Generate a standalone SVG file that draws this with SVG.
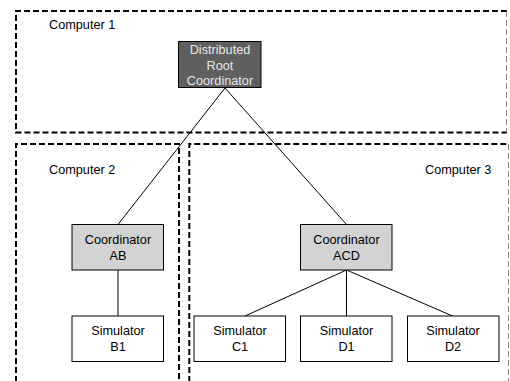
<svg xmlns="http://www.w3.org/2000/svg" width="510" height="381" viewBox="0 0 510 381">
<style>
.zone{fill:none;stroke:#000;stroke-width:2;stroke-dasharray:6,3}
.zedge{fill:none;stroke:#888;stroke-width:1;stroke-dasharray:6,3}
.lbl{font-family:"Liberation Sans",Arial,sans-serif;font-size:12.7px;fill:#000}
.box{stroke:#000;stroke-width:1}
.t{font-family:"Liberation Sans",Arial,sans-serif;font-size:12.7px;text-anchor:middle;fill:#000}
.conn{stroke:#000;stroke-width:1;fill:none}
</style>
<rect width="510" height="381" fill="#fff"/>
<g id="computer1">
<path class="zone" d="M507,11 H16 V132.5 H507"/>
<line class="zedge" x1="506.5" y1="11" x2="506.5" y2="132.5"/>
<text class="lbl" x="49" y="29">Computer 1</text>
</g>
<g id="computer2">
<path class="zone" d="M16,382 V144 H179 V382"/>
<text class="lbl" x="49" y="174">Computer 2</text>
</g>
<g id="computer3">
<path class="zone" d="M189.3,382 V144 H507"/>
<line class="zedge" x1="508.5" y1="144" x2="508.5" y2="381"/>
<text class="lbl" x="425" y="174">Computer 3</text>
</g>
<g id="connectors">
<line class="conn" x1="225" y1="88" x2="118" y2="224.5"/>
<line class="conn" x1="225" y1="88" x2="346.5" y2="224.5"/>
<line class="conn" x1="118" y1="270" x2="118" y2="316"/>
<line class="conn" x1="346.5" y1="270" x2="245" y2="316"/>
<line class="conn" x1="346.5" y1="270" x2="346.5" y2="316"/>
<line class="conn" x1="346.5" y1="270" x2="452.5" y2="316"/>
</g>
<g id="root">
<rect class="box" x="178.5" y="41.5" width="82.5" height="46" fill="#5f5f5f"/>
<text class="t" x="220" y="54" fill="#e6e6e6" style="fill:#e6e6e6">Distributed</text>
<text class="t" x="220" y="69.5" style="fill:#e6e6e6">Root</text>
<text class="t" x="220" y="84.5" style="fill:#e6e6e6">Coordinator</text>
</g>
<g id="coordAB">
<rect class="box" x="72" y="224.5" width="91.5" height="45.5" fill="#d3d3d3"/>
<text class="t" x="118" y="244">Coordinator</text>
<text class="t" x="118" y="259.5">AB</text>
</g>
<g id="coordACD">
<rect class="box" x="300.5" y="224.5" width="91.5" height="45.5" fill="#d3d3d3"/>
<text class="t" x="346.5" y="244">Coordinator</text>
<text class="t" x="346.5" y="259.5">ACD</text>
</g>
<g id="simB1">
<rect class="box" x="72" y="316" width="91.5" height="45.5" fill="#fff"/>
<text class="t" x="118" y="335">Simulator</text>
<text class="t" x="118" y="350.5">B1</text>
</g>
<g id="simC1">
<rect class="box" x="194" y="316" width="91.5" height="45.5" fill="#fff"/>
<text class="t" x="240" y="335">Simulator</text>
<text class="t" x="240" y="350.5">C1</text>
</g>
<g id="simD1">
<rect class="box" x="300.5" y="316" width="91.5" height="45.5" fill="#fff"/>
<text class="t" x="346.5" y="335">Simulator</text>
<text class="t" x="346.5" y="350.5">D1</text>
</g>
<g id="simD2">
<rect class="box" x="407.5" y="316" width="91.5" height="45.5" fill="#fff"/>
<text class="t" x="453" y="335">Simulator</text>
<text class="t" x="453" y="350.5">D2</text>
</g>
</svg>
